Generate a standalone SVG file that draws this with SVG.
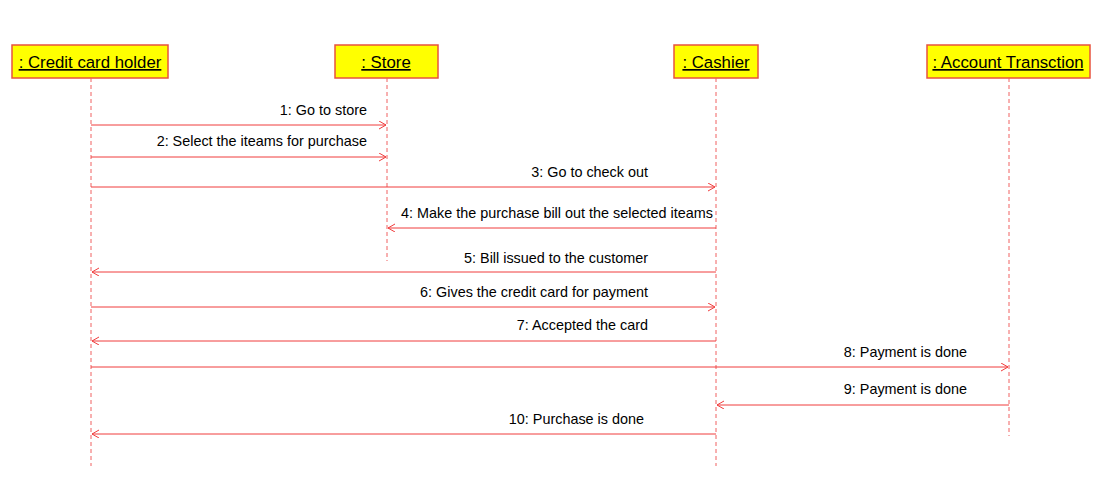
<svg xmlns="http://www.w3.org/2000/svg" width="1110" height="482" viewBox="0 0 1110 482">
<defs>
<style>
.box{fill:#ffff00;stroke:#e8533f;stroke-width:1.5}
.ttl{font-family:"Liberation Sans",Arial,sans-serif;font-size:16.8px;fill:#000;text-decoration:underline;text-anchor:middle}
.life{stroke:#f06060;stroke-width:1;stroke-dasharray:4,3;fill:none}
.msg{stroke:#f03c3c;stroke-width:1;fill:none;marker-end:url(#ah)}
.lbl{font-family:"Liberation Sans",Arial,sans-serif;font-size:14.4px;fill:#000;text-anchor:end}
</style>
<marker id="ah" markerWidth="10" markerHeight="10" refX="7" refY="4" orient="auto" markerUnits="userSpaceOnUse">
<path d="M0,0 L7,4 L0,8" fill="none" stroke="#f03c3c" stroke-width="1"/>
</marker>
</defs>
<rect width="1110" height="482" fill="#fff"/>
<g id="holder"><rect class="box" x="12" y="45" width="156" height="33"/><text class="ttl" x="90" y="68">: Credit card holder</text><line class="life" x1="91" y1="78" x2="91" y2="466"/></g>
<g id="store"><rect class="box" x="335" y="45" width="103" height="33"/><text class="ttl" x="386" y="68">: Store</text><line class="life" x1="387" y1="78" x2="387" y2="261"/></g>
<g id="cashier"><rect class="box" x="674" y="45" width="84" height="33"/><text class="ttl" x="716" y="68">: Cashier</text><line class="life" x1="716" y1="78" x2="716" y2="466"/></g>
<g id="account"><rect class="box" x="927" y="45" width="163" height="33"/><text class="ttl" x="1008" y="68">: Account Transction</text><line class="life" x1="1009" y1="78" x2="1009" y2="436"/></g>
<g id="connectors">
<line class="msg" x1="91" y1="125" x2="386" y2="125"/>
<line class="msg" x1="91" y1="157" x2="386" y2="157"/>
<line class="msg" x1="91" y1="187" x2="715" y2="187"/>
<line class="msg" x1="716" y1="228" x2="388" y2="228"/>
<line class="msg" x1="716" y1="272" x2="92" y2="272"/>
<line class="msg" x1="91" y1="307" x2="715" y2="307"/>
<line class="msg" x1="716" y1="341" x2="92" y2="341"/>
<line class="msg" x1="91" y1="367" x2="1008" y2="367"/>
<line class="msg" x1="1009" y1="405" x2="717" y2="405"/>
<line class="msg" x1="716" y1="434" x2="92" y2="434"/>
<text class="lbl" x="367" y="115">1: Go to store</text>
<text class="lbl" x="367" y="146">2: Select the iteams for purchase</text>
<text class="lbl" x="648" y="177">3: Go to check out</text>
<text class="lbl" x="713" y="218">4: Make the purchase bill out the selected iteams</text>
<text class="lbl" x="648" y="263">5: Bill issued to the customer</text>
<text class="lbl" x="648" y="297">6: Gives the credit card for payment</text>
<text class="lbl" x="648" y="330">7: Accepted the card</text>
<text class="lbl" x="967" y="357">8: Payment is done</text>
<text class="lbl" x="967" y="394">9: Payment is done</text>
<text class="lbl" x="644" y="424">10: Purchase is done</text>
</g>
</svg>
